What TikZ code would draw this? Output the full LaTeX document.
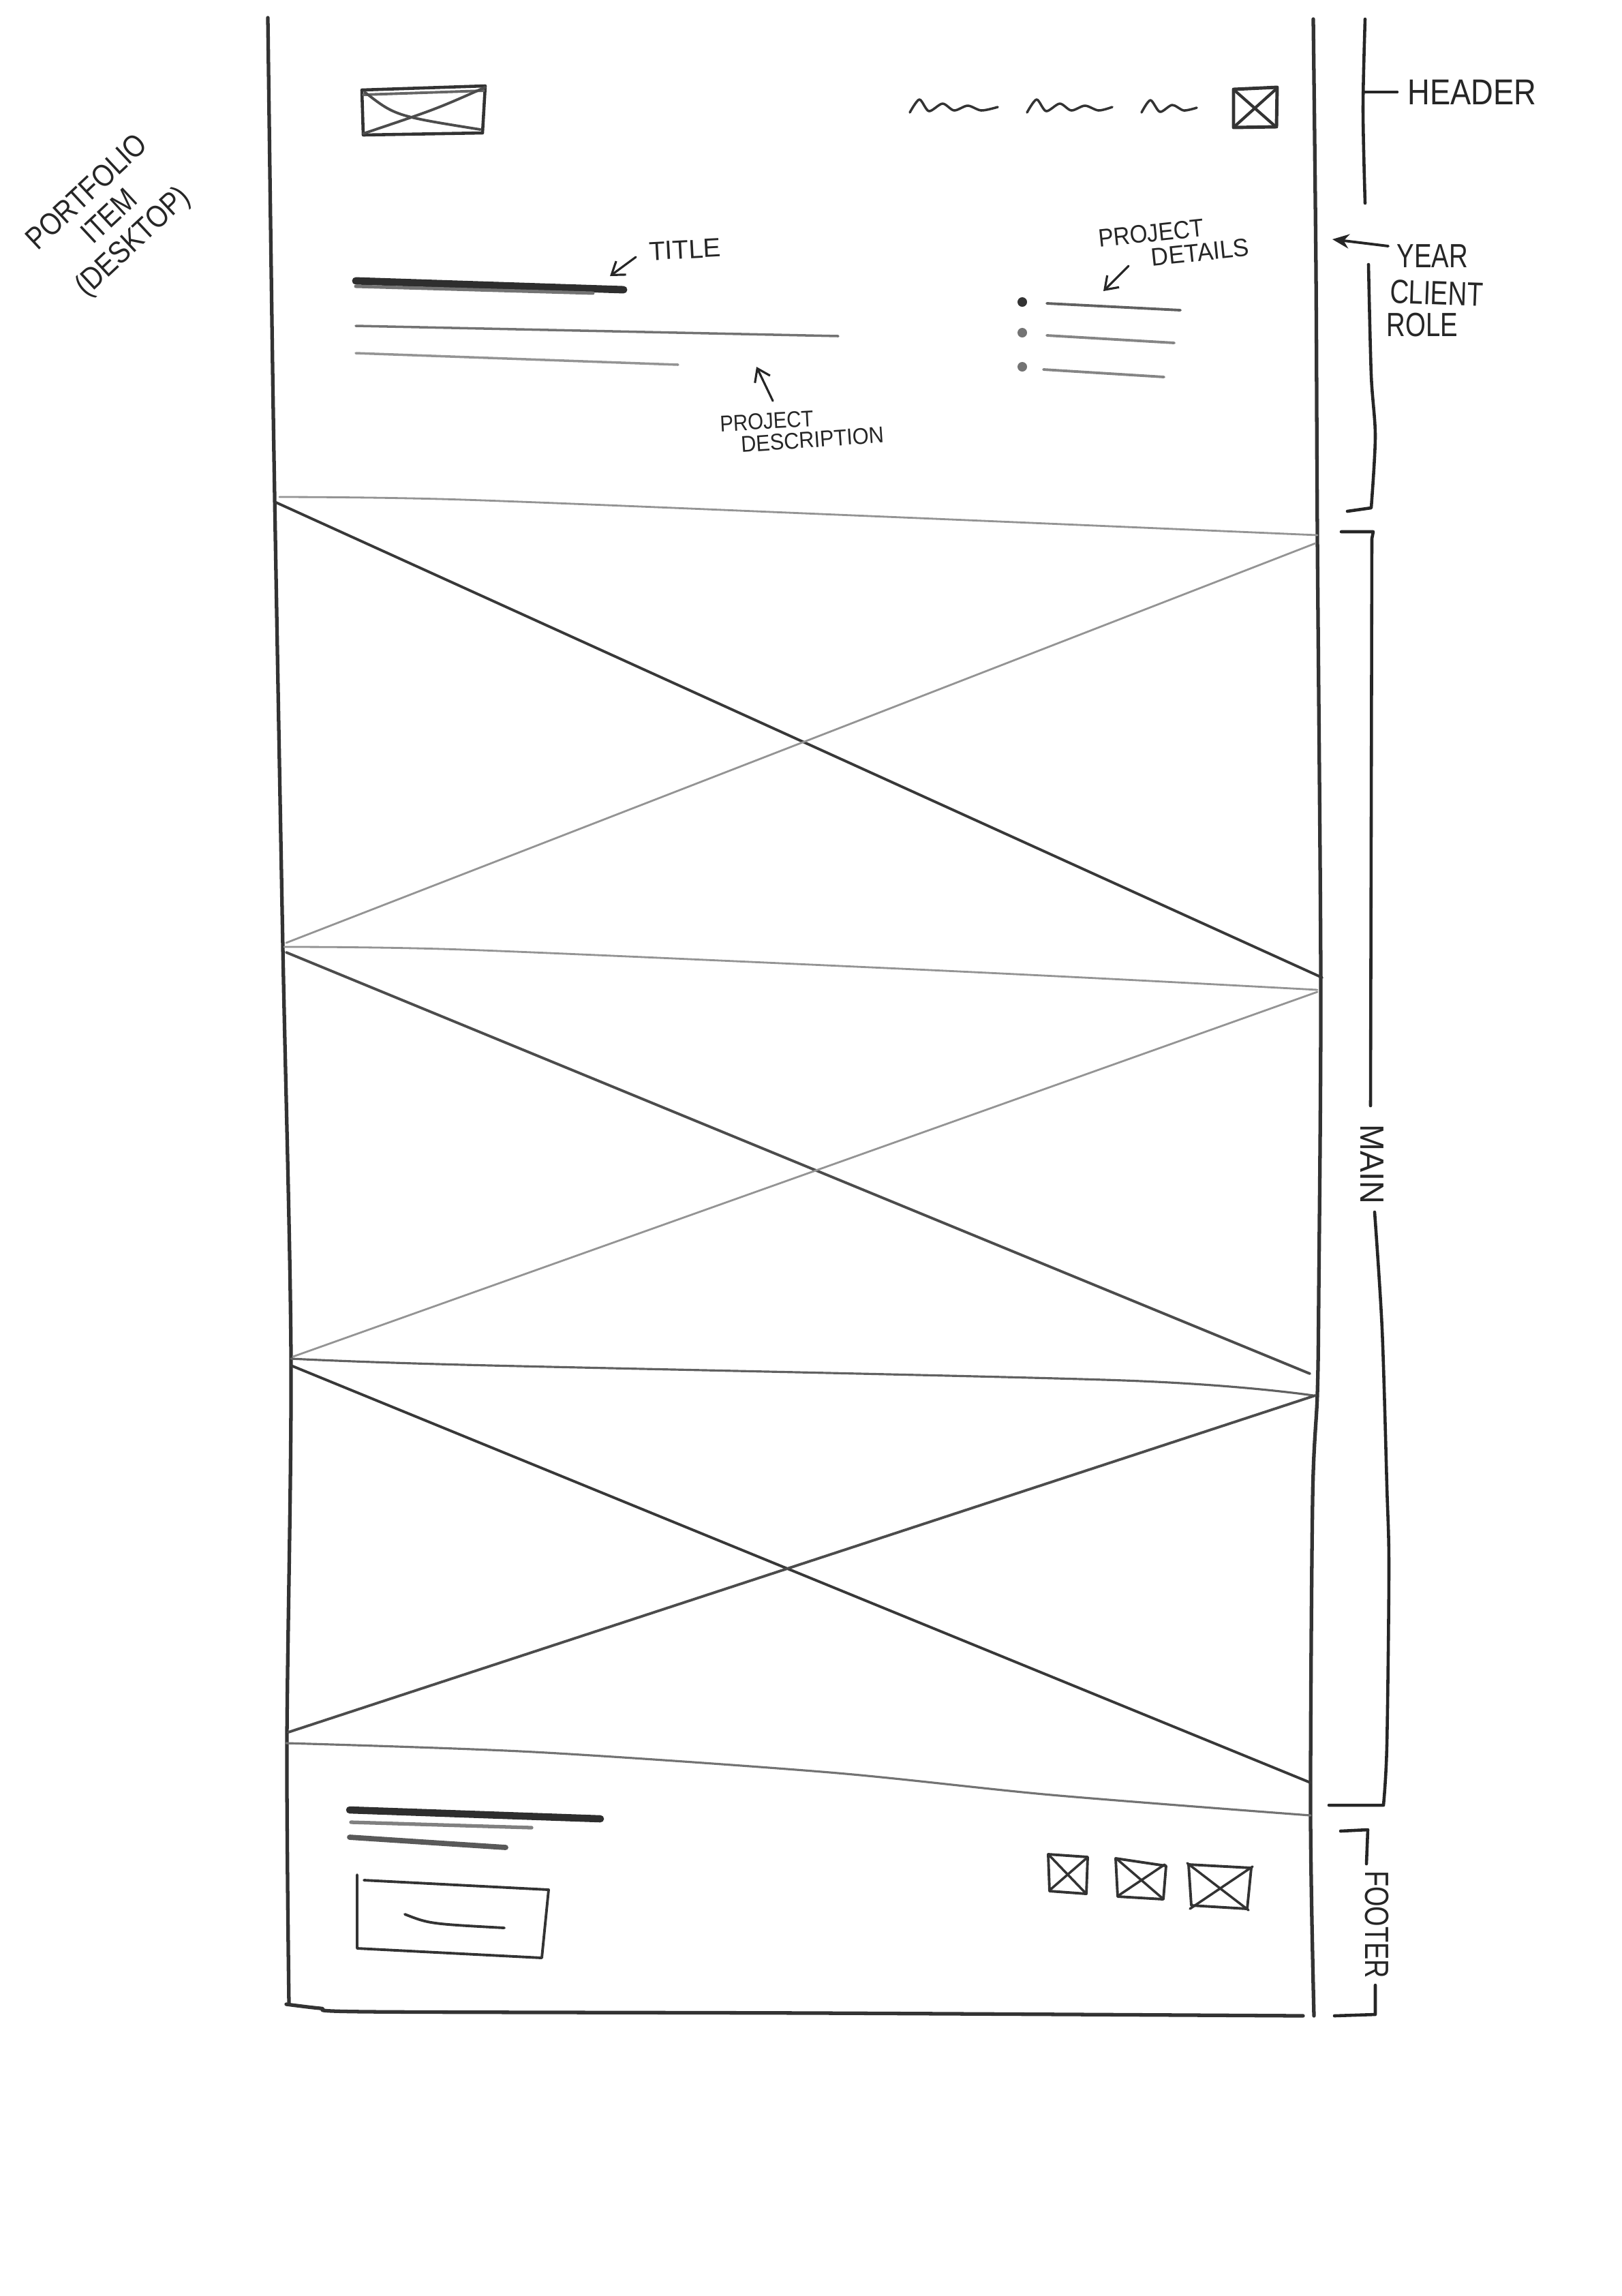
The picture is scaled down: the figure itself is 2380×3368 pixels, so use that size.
\documentclass[tikz,border=0pt]{standalone}
\usepackage{fontspec}
\setmainfont{Liberation Sans}
\usetikzlibrary{arrows.meta}
\newcommand\myfs[1]{\fontsize{#1}{#1}\selectfont}
\tikzset{
  frameline/.style={draw=black!80, line width=1.5pt, line cap=round, line join=round},
  darkx/.style={draw=black!78, line width=1.1pt, line cap=round},
  midx/.style={draw=black!62, line width=0.9pt, line cap=round},
  lightx/.style={draw=black!42, line width=0.8pt, line cap=round},
  bracket/.style={draw=black!85, line width=1.3pt, line cap=round, line join=round},
  pencil/.style={draw=black!80, line width=1.1pt, line cap=round, line join=round},
  note/.style={inner sep=0pt, text=black!85, transform shape},
  notearrow/.style={draw=black!85, line width=0.9pt, line cap=round, -{Straight Barb[length=5pt,width=7pt]}},
}
\begin{document}
\begin{tikzpicture}[x=0.01cm,y=-0.01cm]
\useasboundingbox (0,0) rectangle (2380,3368);

% ---------------- page frame ----------------
\draw[frameline] plot[smooth] coordinates {(393,26) (398,400) (403,729) (415,1389) (427,1993) (421,2557) (424,2940)};
\draw[frameline] plot[smooth] coordinates {(1927,28) (1931,400) (1933,785) (1938,1440) (1935,1900) (1933,2045) (1926,2200) (1923,2663) (1928,2957)};
\draw[frameline] plot[smooth] coordinates {(420,2940) (470,2946) (540,2951) (1200,2953) (1912,2957)};

% ---------------- header ----------------
% logo
\draw[pencil, line width=1.3pt] (531,132) -- (712,126) -- (708,195) -- (533,198) -- cycle;
\draw[pencil, draw=black!60] (533,139) -- (710,133);
\draw[pencil, draw=black!70] (535,135) .. controls (580,170) .. (705,190);
\draw[pencil, draw=black!70] (533,196) .. controls (640,160) .. (712,128);
% nav items
\draw[pencil, line width=1pt] plot[smooth] coordinates {(1335,165) (1349,146) (1363,163) (1383,152) (1400,162) (1420,155) (1440,162) (1464,157)};
\draw[pencil, line width=1pt] plot[smooth] coordinates {(1507,165) (1521,146) (1535,163) (1555,152) (1572,162) (1592,155) (1612,162) (1632,157)};
\draw[pencil, line width=1pt] plot[smooth] coordinates {(1675,165) (1688,147) (1702,164) (1720,154) (1737,162) (1756,158)};
% menu icon
\draw[pencil, line width=1.4pt] (1810,131) -- (1874,128) -- (1873,186) -- (1810,187) -- cycle;
\draw[pencil, line width=1.2pt] (1812,133) -- (1871,185);
\draw[pencil, line width=1.2pt] (1872,131) -- (1812,185);

% title and description
\draw[draw=black!82, line width=3.1pt, line cap=round] (522,412) -- (915,425);
\draw[draw=black!55, line width=1.4pt, line cap=round] (522,420) -- (870,430);
\draw[draw=black!55, line width=1pt, line cap=round] (522,478) -- (1230,493);
\draw[draw=black!42, line width=1pt, line cap=round] (522,518) -- (995,535);

% project details list
\fill[black!80] (1500,443) circle (7);
\fill[black!55] (1500,488) circle (7);
\fill[black!55] (1500,538) circle (7);
\draw[draw=black!62, line width=1.1pt, line cap=round] (1536,445) -- (1732,455);
\draw[draw=black!48, line width=1.1pt, line cap=round] (1536,492) -- (1723,503);
\draw[draw=black!48, line width=1.1pt, line cap=round] (1531,542) -- (1708,553);

% annotations inside
\node[note, rotate=3, font=\myfs{11pt}] (ttl) at (1005,366) {TITLE};
\coordinate (ttlA) at (933,377);
\coordinate (ttlB) at (895,405);
\draw[notearrow] (ttlA) -- (ttlB);

\node[note, rotate=6, xscale=0.9, font=\myfs{10.5pt}] (pdet1) at (1689,342) {PROJECT};
\node[note, rotate=6, xscale=0.95, font=\myfs{10.5pt}] (pdet2) at (1761,370) {DETAILS};
\coordinate (detA) at (1656,390);
\coordinate (detB) at (1619,427);
\draw[notearrow] (detA) -- (detB);

\node[note, rotate=3, xscale=0.88, font=\myfs{9.5pt}] (pdes1) at (1125,618) {PROJECT};
\node[note, rotate=4, xscale=0.92, font=\myfs{9.5pt}] (pdes2) at (1192,645) {DESCRIPTION};
\coordinate (desA) at (1134,588);
\coordinate (desB) at (1110,538);
\draw[notearrow] (desA) -- (desB);

% ---------------- main image blocks ----------------
\draw[lightx] plot[smooth] coordinates {(410,729) (680,733) (1300,758) (1933,785)};
\draw[darkx] (405,737) -- (1940,1434);
\draw[lightx] (1930,797) -- (420,1383);

\draw[lightx] plot[smooth] coordinates {(417,1389) (680,1393) (1300,1420) (1650,1437) (1933,1452)};
\draw[darkx, draw=black!70] (420,1397) -- (1922,2015);
\draw[lightx] (1933,1455) -- (430,1990);

\draw[midx] plot[smooth] coordinates {(427,1993) (680,2002) (1650,2025) (1927,2047)};
\draw[darkx] (427,2003) -- (1923,2615);
\draw[darkx, draw=black!70] (1930,2047) -- (423,2541);

% ---------------- footer ----------------
\draw[midx, draw=black!55] plot[smooth] coordinates {(420,2557) (784,2570) (1218,2600) (1543,2633) (1923,2663)};
\draw[draw=black!82, line width=3pt, line cap=round] (513,2655) -- (881,2668);
\draw[draw=black!50, line width=1.5pt, line cap=round] (515,2673) -- (780,2681);
\draw[draw=black!65, line width=2.2pt, line cap=round] (513,2695) -- (742,2710);
% button
\draw[pencil] (524,2750) -- (524,2858) -- (795,2872) -- (805,2772) -- (534,2758);
\draw[pencil] (594,2808) .. controls (630,2822) .. (740,2828);
% social icons
\draw[pencil, line width=1.1pt] (1538,2720) -- (1596,2724) -- (1594,2778) -- (1540,2774) -- cycle;
\draw[pencil, line width=1pt] (1540,2722) -- (1592,2776);
\draw[pencil, line width=1pt] (1594,2726) -- (1541,2772);
\draw[pencil, line width=1.1pt] (1637,2726) -- (1711,2737) -- (1707,2786) -- (1640,2782) -- cycle;
\draw[pencil, line width=1pt] (1640,2728) -- (1705,2784);
\draw[pencil, line width=1pt] (1709,2735) -- (1642,2780);
\draw[pencil, line width=1.1pt] (1744,2735) -- (1836,2740) -- (1830,2800) -- (1748,2795) -- cycle;
\draw[pencil, line width=1pt] (1742,2733) -- (1832,2802);
\draw[pencil, line width=1pt] (1838,2738) -- (1746,2800);

% ---------------- side annotations ----------------
% header bracket
\draw[bracket] plot[smooth] coordinates {(2003,28) (2000,160) (2003,298)};
\draw[bracket] (2002,135) -- (2050,135);
\node[note, xscale=0.86, font=\myfs{15pt}] (hdr) at (2160,135) {HEADER};

% year / client / role
\coordinate (yrA) at (2037,361);
\coordinate (yrB) at (1955,351);
\draw[bracket, line width=1.1pt, -{Stealth[length=7pt,width=6pt]}] (yrA) -- (yrB);
\node[note, xscale=0.78, font=\myfs{14pt}] (yr) at (2102,376) {YEAR};
\node[note, rotate=-2, xscale=0.78, font=\myfs{14pt}] (cl) at (2108,430) {CLIENT};
\node[note, xscale=0.78, font=\myfs{14pt}] (rl) at (2087,477) {ROLE};
\draw[bracket] plot[smooth] coordinates {(2008,388) (2012,550) (2018,640) (2012,745)} -- (1977,750);

% main bracket
\draw[bracket] (1968,780) -- (2015,780) -- (2013,790) -- (2011,1622);
\node[note, rotate=-90, xscale=0.95, font=\myfs{14pt}] (mn) at (2013,1708) {MAIN};
\draw[bracket] plot[smooth] coordinates {(2017,1778) (2028,1950) (2035,2180) (2038,2300) (2035,2560) (2030,2648)} -- (1950,2648);

% footer bracket
\draw[bracket] (1967,2686) -- (2007,2684) -- (2005,2734);
\node[note, rotate=-90, xscale=0.77, font=\myfs{14pt}] (ft) at (2020,2823) {FOOTER};
\draw[bracket] (2018,2912) -- (2018,2955) -- (1958,2957);

% page title
\node[note, rotate=43, xscale=0.85, align=center, font={\fontsize{13pt}{14pt}\selectfont}] (pf) at (163,320) {PORTFOLIO\\ITEM\\(DESKTOP)};
\end{tikzpicture}
\end{document}
